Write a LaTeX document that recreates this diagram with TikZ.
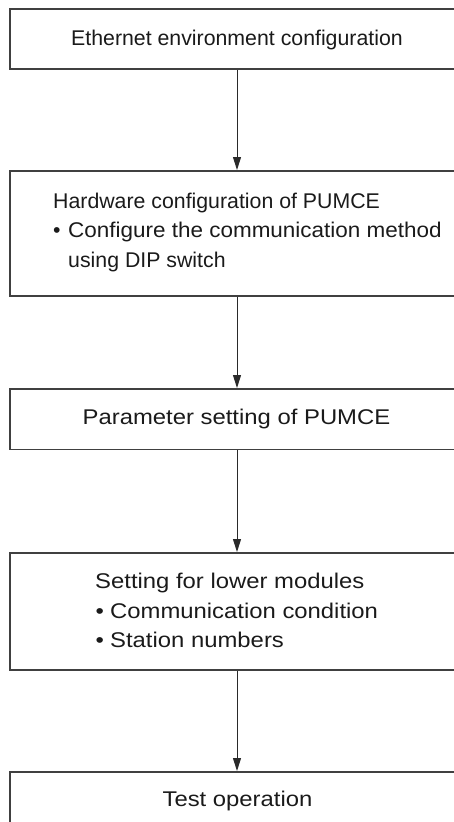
\documentclass[tikz,border=0pt]{standalone}
\usepackage{fontspec}
\setmainfont{Liberation Sans}
\newfontfamily\widefont[FakeStretch=1.12]{Liberation Sans}
\newfontfamily\midfont[FakeStretch=1.055]{Liberation Sans}
\usetikzlibrary{arrows.meta}
\definecolor{boxgray}{HTML}{404040}
\definecolor{arrgray}{HTML}{2A2A2A}
\definecolor{textgray}{HTML}{1A1A1A}
\begin{document}
\begin{tikzpicture}[x=1pt,y=-1pt,
  box/.style={draw=boxgray, line width=1.6pt, minimum width=454pt, inner sep=0pt, anchor=north},
  txt/.style={inner sep=0pt, font=\fontsize{21.3}{25}\selectfont, text=textgray},
  wtxt/.style={txt, font=\widefont\fontsize{21.3}{25}\selectfont},
  arr/.style={draw=arrgray, line width=1pt, -{Triangle[length=13pt,width=8pt]}}]
\useasboundingbox (0,0) rectangle (454,822);
\clip (0,0) rectangle (454,822);
% boxes
\node[box, minimum height=60pt]   (b1) at (237,8)   {};
\node[box, minimum height=125pt]  (b2) at (237,170) {};
\node[box, minimum height=60.5pt] (b3) at (237,388) {};
\node[box, minimum height=117pt]  (b4) at (237,552) {};
\node[box, minimum height=60pt]   (b5) at (237,771) {};
% texts
\node[txt, anchor=base] (t1) at (237,45) {Ethernet environment configuration};
\node[txt, anchor=base west] (t2a) at (53,208) {Hardware configuration of PUMCE};
\node[txt, anchor=base west] (t2b) at (53,237.5) {\makebox[15pt][l]{•}\midfont Configure the communication method};
\node[txt, anchor=base west] (t2c) at (68,267) {using DIP switch};
\node[wtxt, anchor=base] (t3) at (236.5,424) {Parameter setting of PUMCE};
\node[wtxt, anchor=base west] (t4a) at (95,588) {Setting for lower modules};
\node[wtxt, anchor=base west] (t4b) at (95.5,618) {\makebox[14.5pt][l]{•}Communication condition};
\node[wtxt, anchor=base west] (t4c) at (95.5,647) {\makebox[14.5pt][l]{•}Station numbers};
\node[wtxt, anchor=base] (t5) at (237.5,806) {Test operation};
% arrows
\draw[arr] (b1.south) -- (b2.north);
\draw[arr] (b2.south) -- (b3.north);
\draw[arr] (b3.south) -- (b4.north);
\draw[arr] (b4.south) -- (b5.north);
\end{tikzpicture}
\end{document}
